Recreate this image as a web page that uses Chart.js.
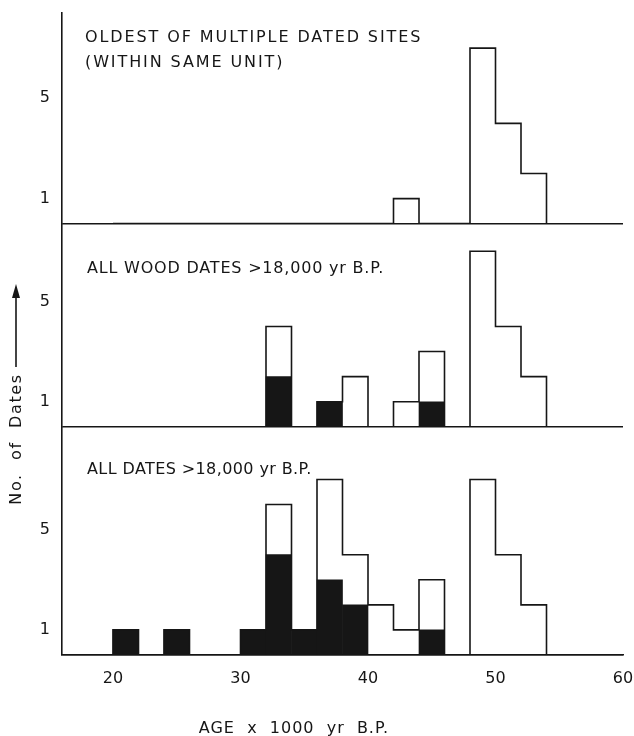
<!DOCTYPE html>
<html>
<head>
<meta charset="utf-8">
<script src="https://cdn.jsdelivr.net/npm/chart.js@4.4.1/dist/chart.umd.min.js"></script>
<style>
  html, body { margin: 0; padding: 0; background: #fff; }
  #wrap { width: 634px; height: 736px; }
</style>
</head>
<body>
<div id="wrap"><canvas id="ageChart" width="634" height="736"></canvas></div>
<script>
// bins of 2000 yr, left edge in thousands of yr B.P.
const binStarts = [20, 22, 24, 26, 28, 30, 32, 34, 36, 38, 40, 42, 44, 46, 48, 50, 52];
const binWidth = 2;

// top: oldest of multiple dated sites
const oldestTotal = [0, 0, 0, 0, 0, 0, 0, 0, 0, 0, 0, 1, 0, 0, 7, 4, 2];
// middle: all wood dates (black = filled part)
const woodTotal = [0, 0, 0, 0, 0, 0, 4, 0, 1, 2, 0, 1, 3, 0, 7, 4, 2];
const woodBlack = [0, 0, 0, 0, 0, 0, 2, 0, 1, 0, 0, 0, 1, 0, 0, 0, 0];
// bottom: all dates
const allTotal = [1, 0, 1, 0, 0, 1, 6, 1, 7, 4, 2, 1, 3, 0, 7, 4, 2];
const allBlack = [1, 0, 1, 0, 0, 1, 4, 1, 3, 2, 0, 0, 1, 0, 0, 0, 0];

const xTicks = [20, 30, 40, 50, 60];
const yTicks = [0, 1, 5];

const ink = '#161616';
const font = '"DejaVu Sans", sans-serif';

// histogram outline as stepped line through the bin edges
function outline(counts) {
    const pts = [{ x: binStarts[0], y: 0 }];
    counts.forEach((c, i) => pts.push({ x: binStarts[i], y: c }));
    pts.push({ x: binStarts[binStarts.length - 1] + binWidth, y: 0 });
    return pts;
}

function filled(counts) {
    return counts.map((c, i) => ({ x: binStarts[i] + binWidth / 2, y: c }));
}

function lineSet(counts, axis) {
    return {
        type: 'line', data: outline(counts), yAxisID: axis,
        stepped: 'before', borderColor: ink, borderWidth: 1.6,
        pointRadius: 0, fill: false, order: 0
    };
}

function barSet(counts, axis) {
    return {
        type: 'bar', data: filled(counts), yAxisID: axis,
        backgroundColor: ink, borderWidth: 0, grouped: false,
        barPercentage: 1, categoryPercentage: 1, order: 1
    };
}

function panelAxis(max) {
    return {
        type: 'linear', position: 'left', stack: 'panels', stackWeight: max,
        min: 0, max: max,
        border: { display: true, color: ink, width: 1.6 },
        grid: {
            drawTicks: false,
            lineWidth: 1.6,
            color: c => (c.tick && c.tick.value === 0) ? ink : 'rgba(0,0,0,0)'
        },
        ticks: {
            autoSkip: false, padding: 12, color: ink,
            font: { family: font, size: 16 },
            callback: v => v === 0 ? '' : v
        },
        afterBuildTicks: s => { s.ticks = yTicks.map(v => ({ value: v })); },
        afterFit: s => { s.width = 62; s.paddingTop = 0; s.paddingBottom = 0; }
    };
}

const paperText = {
    id: 'paperText',
    beforeDraw(chart) {
        const { ctx } = chart;
        ctx.save();
        ctx.fillStyle = '#fff';
        ctx.fillRect(0, 0, chart.width, chart.height);
        ctx.restore();
    },
    afterDraw(chart) {
        const { ctx, scales } = chart;
        ctx.save();
        ctx.fillStyle = ink;
        ctx.strokeStyle = ink;
        ctx.font = '16px ' + font;
        ctx.textBaseline = 'middle';
        ctx.textAlign = 'left';

        ctx.letterSpacing = '1.9px';
        ctx.fillText('OLDEST OF MULTIPLE DATED SITES', 85, scales.yTop.top + 25);
        ctx.fillText('(WITHIN SAME UNIT)', 85, scales.yTop.top + 50);
        ctx.letterSpacing = '0.8px';
        ctx.fillText('ALL WOOD DATES >18,000 yr B.P.', 87, scales.yMid.top + 45);
        ctx.letterSpacing = '0.4px';
        ctx.fillText('ALL DATES >18,000 yr B.P.', 87, scales.yBot.top + 43);

        // x title
        ctx.letterSpacing = '1px';
        ctx.textAlign = 'center';
        ctx.fillText('AGE  x  1000  yr  B.P.', 294, 729);

        // y title with arrow
        ctx.letterSpacing = '1.6px';
        ctx.save();
        ctx.translate(17, 439);
        ctx.rotate(-Math.PI / 2);
        ctx.fillText('No.  of  Dates', 0, 0);
        ctx.restore();

        ctx.lineWidth = 1.6;
        ctx.beginPath();
        ctx.moveTo(16, 367);
        ctx.lineTo(16, 294);
        ctx.stroke();
        ctx.beginPath();
        ctx.moveTo(16, 284);
        ctx.lineTo(12, 298);
        ctx.lineTo(20, 298);
        ctx.closePath();
        ctx.fill();
        ctx.restore();
    }
};

new Chart(document.getElementById('ageChart'), {
    type: 'bar',
    data: {
        datasets: [
            lineSet(oldestTotal, 'yTop'),
            lineSet(woodTotal, 'yMid'),
            barSet(woodBlack, 'yMid'),
            lineSet(allTotal, 'yBot'),
            barSet(allBlack, 'yBot')
        ]
    },
    options: {
        responsive: false,
        animation: false,
        layout: { padding: { top: 13, right: 11, left: 0, bottom: 0 } },
        scales: {
            x: {
                type: 'linear', position: 'bottom', min: 16, max: 60, offset: false,
                border: { display: true, color: ink, width: 1.6 },
                grid: { display: false, drawTicks: false, offset: false },
                ticks: {
                    autoSkip: false, maxRotation: 0, padding: 14, color: ink,
                    font: { family: font, size: 16 }
                },
                afterBuildTicks: s => { s.ticks = xTicks.map(v => ({ value: v })); },
                afterFit: s => { s.height = 81; s.paddingLeft = 0; s.paddingRight = 0; }
            },
            yBot: panelAxis(9.1),
            yMid: panelAxis(8.1),
            yTop: panelAxis(8.4)
        },
        plugins: {
            legend: { display: false },
            tooltip: { enabled: false },
            title: { display: false }
        }
    },
    plugins: [paperText]
});
</script>
</body>
</html>
